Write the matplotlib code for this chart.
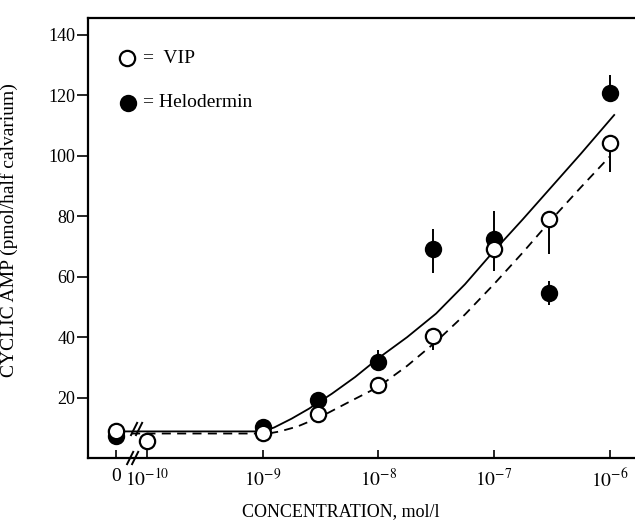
import matplotlib as mpl
mpl.use("agg")
import matplotlib.pyplot as plt
import numpy as np

plt.rcParams["font.family"] = ["Liberation Serif", "DejaVu Serif"]
plt.rcParams["mathtext.fontset"] = "stix"

# zero dose is drawn left of the axis break
ZERO_POS = -10.27

vip_conc = [0, 1e-10, 1e-9, 3e-9, 1e-8, 3e-8, 1e-7, 3e-7, 1e-6]
vip_camp = [8.8, 5.5, 8.4, 14.4, 24.0, 40.5, 69.3, 79.2, 104.3]
vip_err_lo = [0, 3.0, 0, 0, 0, 4.6, 7.3, 11.6, 9.6]
vip_err_hi = [0, 0, 0, 0, 0, 0, 0, 0, 0]

helo_conc = [0, 1e-9, 3e-9, 1e-8, 3e-8, 1e-7, 3e-7, 1e-6]
helo_camp = [7.4, 10.4, 19.3, 31.9, 69.3, 72.6, 54.7, 120.8]
helo_err_lo = [0, 0, 0, 0, 8.0, 0, 4.0, 0]
helo_err_hi = [0, 0, 0, 4.0, 6.6, 9.0, 4.0, 6.0]

# fitted curves (x = log10 concentration, first point = zero dose)
helo_fit_logc = [ZERO_POS, -9.0, -8.9, -8.75, -8.6, -8.4, -8.2, -8.0, -7.75, -7.5,
                 -7.25, -7.0, -6.75, -6.5, -6.25, -5.96]
helo_fit_camp = [8.8, 8.8, 10.1, 13.0, 16.3, 21.3, 26.8, 33.0, 40.0, 47.8,
                 57.5, 68.5, 79.0, 89.8, 100.6, 113.5]
vip_fit_logc = [ZERO_POS, -8.95, -8.85, -8.7, -8.5, -8.25, -8.0, -7.75, -7.5,
                -7.25, -7.0, -6.75, -6.5, -6.25, -6.0]
vip_fit_camp = [8.1, 8.1, 8.8, 10.4, 13.6, 18.6, 23.5, 30.5, 38.5,
                47.5, 57.5, 68.0, 79.0, 89.5, 99.7]

tick_conc = [0, 1e-10, 1e-9, 1e-8, 1e-7, 1e-6]
tick_labels = ["0", r"$10^{-10}$", r"$10^{-9}$", r"$10^{-8}$", r"$10^{-7}$", r"$10^{-6}$"]


def xpos(conc):
    return np.array([ZERO_POS if c == 0 else np.log10(c) for c in conc])


fig = plt.figure(figsize=(6.35, 5.25), dpi=100)
ax = fig.add_axes([88 / 635, 67 / 525, 547 / 635, 440 / 525])

ax.plot(helo_fit_logc, helo_fit_camp, color="black", lw=1.3, zorder=2)
ax.plot(vip_fit_logc, vip_fit_camp, color="black", lw=1.3, ls=(0, (5, 3.5)), zorder=2)

ax.errorbar(xpos(helo_conc), helo_camp, yerr=[helo_err_lo, helo_err_hi], fmt="o",
            ms=11, mfc="black", mec="black", mew=1.5, ecolor="black",
            elinewidth=1.4, capsize=0, zorder=3)
ax.errorbar(xpos(vip_conc), vip_camp, yerr=[vip_err_lo, vip_err_hi], fmt="o",
            ms=11, mfc="white", mec="black", mew=1.6, ecolor="black",
            elinewidth=1.4, capsize=0, zorder=4)


# "//" break marks, sizes given in pixels
def break_mark(x, y):
    px_x = 1 / 115.7
    px_y = 1 / 3.025
    for dx in (-2.5, 2.5):
        ax.plot([x + (dx - 3.5) * px_x, x + (dx + 3.5) * px_x],
                [y - 7 * px_y, y + 7 * px_y], color="black", lw=1.4,
                clip_on=False, zorder=5, solid_capstyle="butt")


break_mark(-10.124, 0.0)
break_mark(-10.09, 9.6)

ax.set_xlim(-10.51, -5.78)
ax.set_ylim(0, 145.6)
ax.set_xticks(xpos(tick_conc))
ax.set_xticklabels(tick_labels)
ax.set_yticks([20, 40, 60, 80, 100, 120, 140])
ax.tick_params(axis="x", direction="in", length=6, width=1.2, pad=7, labelsize=14)
ax.tick_params(axis="y", direction="out", length=8, width=1.2, pad=1, labelsize=13)

for side in ["left", "bottom", "top"]:
    ax.spines[side].set_linewidth(1.6)
ax.spines["right"].set_visible(False)

ax.set_ylabel("CYCLIC AMP (pmol/half calvarium)", fontsize=14)
ax.yaxis.set_label_coords(-0.128, 0.518)
fig.text(341 / 635, 1 - 512 / 525, "CONCENTRATION, mol/l", fontsize=13,
         ha="center", va="center")

# key in the upper left
ax.plot([0.0713], [0.909], "o", ms=11, mfc="white", mec="black", mew=1.6,
        transform=ax.transAxes)
ax.plot([0.0731], [0.807], "o", ms=11, mfc="black", mec="black", mew=1.5,
        transform=ax.transAxes)
ax.text(0.1, 0.909, "=  VIP", fontsize=14, va="center", transform=ax.transAxes)
ax.text(0.1, 0.807, "= Helodermin", fontsize=14, va="center", transform=ax.transAxes)

plt.savefig("out.png", dpi=100)
